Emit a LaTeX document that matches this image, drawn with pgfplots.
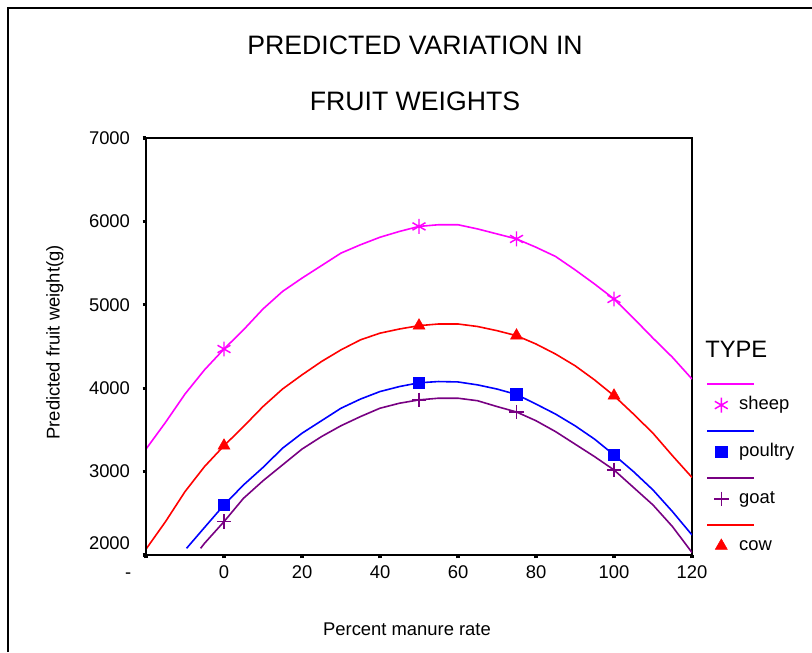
\documentclass[border=0pt]{standalone}
\usepackage{pgfplots}
\pgfplotsset{compat=1.18}
\usepackage{fontspec}
\setmainfont{Liberation Sans}
\definecolor{sheepc}{RGB}{255,0,255}
\definecolor{poultryc}{RGB}{0,0,255}
\definecolor{goatc}{RGB}{120,0,130}
\definecolor{cowc}{RGB}{255,0,0}

\begin{document}
\begin{tikzpicture}
\useasboundingbox (0,0) rectangle (609pt,-489pt);
\draw[line width=0.8pt] (6pt,-489pt) -- (6pt,-6pt) -- (609pt,-6pt);

\begin{axis}[
    at={(109.5pt,-416.25pt)}, anchor=south west,
    width=409.5pt, height=312.75pt, scale only axis,
    xmin=-20, xmax=120, ymin=2000, ymax=7000,
    xtick={-20,0,...,120},
    xticklabels={\makebox[0pt][r]{-\hspace{11pt}}\vphantom{0},0,20,40,60,80,100,120},
    ytick={2000,3000,...,7000},
    yticklabels={\smash{\raisebox{4.5pt}{2000}},3000,4000,5000,6000,7000},
    xtick pos=bottom, ytick pos=left,
    tick align=outside, major tick length=2.5pt,
    tick style={black, line width=2.5pt},
    axis line style={line width=1pt},
    ticklabel style={font=\fontsize{13.8}{16}\selectfont},
    xticklabel style={yshift=-2pt},
    yticklabel style={xshift=-6pt},
    xlabel={Percent manure rate},
    ylabel={Predicted fruit weight(g)},
    label style={font=\fontsize{13.8}{16}\selectfont},
    xlabel style={at={(axis description cs:0.478,-0.1775)}, anchor=center},
    ylabel style={at={(axis description cs:-0.1667,0.51)}, anchor=center},
    legend style={at={(axis description cs:1.040,0.381)}, anchor=north west,
        draw=none, fill=none, inner sep=0pt, row sep=22.2pt, column sep=8pt,
        font=\fontsize{13.8}{16}\selectfont,
        nodes={inner sep=0pt, text height=10pt, text depth=3pt}},
    legend cell align=left,
    legend image code/.code={
        \draw[#1, line width=1.2pt, overlay] (-10.5pt,15.75pt) -- (24.75pt,15.75pt);
        \draw[#1] plot coordinates {(0pt,0pt)};
    },
    after end axis/.code={
        \draw[line width=1.8pt, line cap=rect] (rel axis cs:0,1) -- (rel axis cs:0,0) -- (rel axis cs:1,0);
    },
]
% fitted curves
\addplot[sheepc, line width=1.2pt, forget plot] coordinates {
    (-20,3270)(-15,3590)(-10,3930)(-5,4220)(0,4470)(5,4700)(10,4950)(15,5160)
    (20,5320)(25,5470)(30,5620)(35,5720)(40,5810)(45,5880)(50,5940)(55,5960)
    (60,5960)(65,5910)(70,5850)(75,5790)(80,5690)(85,5580)(90,5420)(95,5250)
    (100,5070)(105,4840)(110,4600)(115,4370)(120,4110)
};
\addplot[poultryc, line width=1.2pt, forget plot] coordinates {
    (-9.6,2080)(-5,2330)(0,2600)(5,2840)(10,3050)(15,3280)(20,3460)(25,3610)
    (30,3760)(35,3870)(40,3960)(45,4020)(50,4065)(55,4080)(60,4075)(65,4040)
    (70,3990)(75,3925)(80,3810)(85,3690)(90,3550)(95,3390)(100,3200)(105,3000)
    (110,2780)(115,2520)(120,2240)
};
\addplot[goatc, line width=1.2pt, forget plot] coordinates {
    (-6,2080)(-5,2140)(0,2400)(5,2680)(10,2890)(15,3080)(20,3270)(25,3420)
    (30,3550)(35,3660)(40,3760)(45,3820)(50,3860)(55,3880)(60,3880)(65,3850)
    (70,3780)(75,3715)(80,3610)(85,3480)(90,3330)(95,3180)(100,3020)(105,2810)
    (110,2600)(115,2340)(120,2030)
};
\addplot[cowc, line width=1.2pt, forget plot] coordinates {
    (-20,2070)(-15,2400)(-10,2760)(-5,3060)(0,3310)(5,3540)(10,3780)(15,3990)
    (20,4160)(25,4320)(30,4460)(35,4580)(40,4660)(45,4710)(50,4750)(55,4770)
    (60,4770)(65,4740)(70,4690)(75,4630)(80,4530)(85,4410)(90,4270)(95,4100)
    (100,3910)(105,3690)(110,3460)(115,3190)(120,2930)
};
% observed points
\addplot[sheepc, only marks, mark=asterisk, mark size=5.6pt, mark options={line width=1.1pt}]
    coordinates {(0,4470)(50,5940)(75,5790)(100,5070)};
\addlegendentry{sheep}
\addplot[poultryc, only marks, mark=square*, mark size=4.4pt,
    mark options={fill=poultryc, rounded corners=2pt, line width=0.6pt}]
    coordinates {(0,2600)(50,4065)(75,3925)(100,3200)};
\addlegendentry{poultry}
\addplot[goatc, only marks, mark=+, mark size=5.4pt, mark options={line width=1.1pt}]
    coordinates {(0,2400)(50,3860)(75,3715)(100,3020)};
\addlegendentry{goat}
\addplot[cowc, only marks, mark=triangle*, mark size=5.2pt]
    coordinates {(0,3310)(50,4750)(75,4630)(100,3910)};
\addlegendentry{cow}
\end{axis}

\node[font=\fontsize{20}{24}\selectfont] at (311.25pt,-33.75pt) {PREDICTED VARIATION IN};
\node[font=\fontsize{20}{24}\selectfont] at (311.25pt,-75.75pt) {FRUIT WEIGHTS};
\node[font=\fontsize{17.8}{20}\selectfont, anchor=west, inner sep=0pt] at (528.75pt,-261.75pt) {TYPE};
\end{tikzpicture}
\end{document}
